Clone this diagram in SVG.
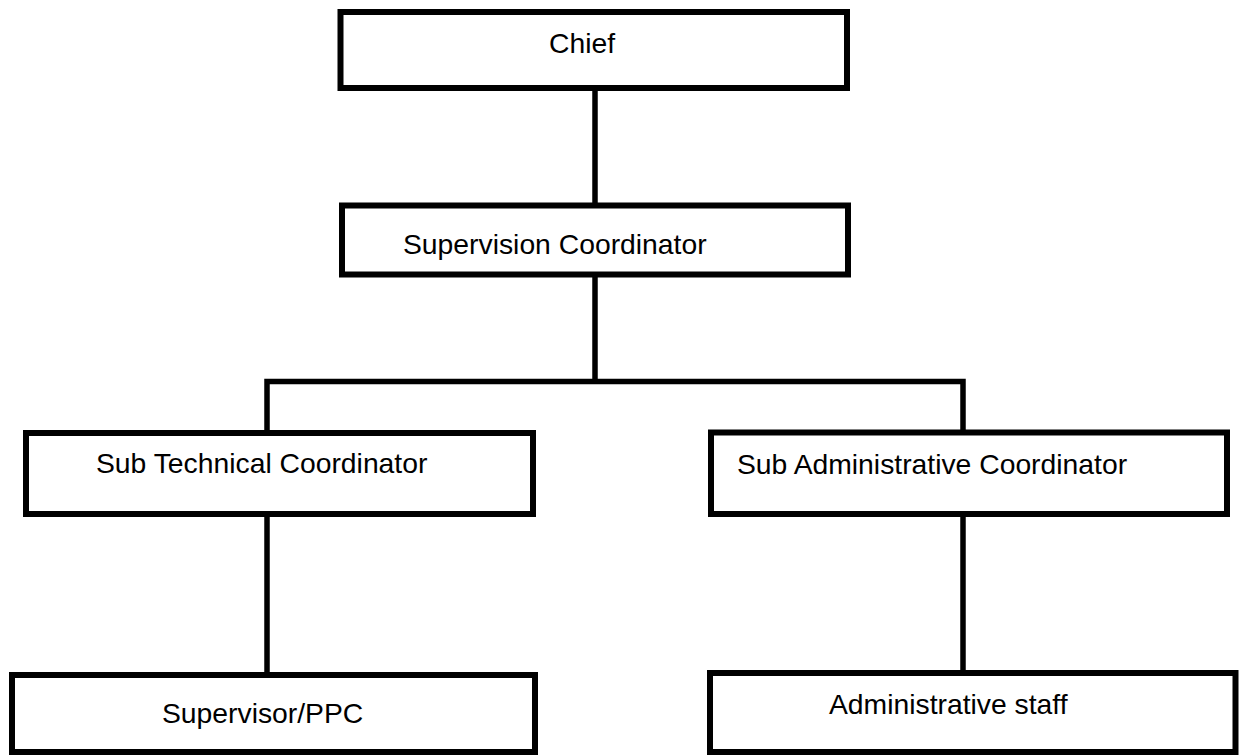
<svg xmlns="http://www.w3.org/2000/svg" width="1241" height="755" viewBox="0 0 1241 755">
<style>
.box{fill:#fff;stroke:#000;stroke-width:6}
.lbl{font-family:"Liberation Sans",Arial,sans-serif;font-size:28.3px;fill:#000}
.con{fill:none;stroke:#000;stroke-width:5.5}
</style>
<rect width="1241" height="755" fill="#fff"/>
<g id="connectors">
<line class="con" x1="595" y1="88" x2="595" y2="206"/>
<line class="con" x1="595" y1="274" x2="595" y2="382"/>
<polyline class="con" points="267,433 267,381.5 963,381.5 963,433"/>
<line class="con" x1="267" y1="514" x2="267" y2="675"/>
<line class="con" x1="963" y1="514" x2="963" y2="673"/>
</g>
<g id="chief">
<rect class="box" x="340.5" y="12" width="506.5" height="76"/>
<text class="lbl" x="549" y="53">Chief</text>
</g>
<g id="supervision-coordinator">
<rect class="box" x="342" y="205.5" width="506" height="69"/>
<text class="lbl" x="403" y="254">Supervision Coordinator</text>
</g>
<g id="sub-technical-coordinator">
<rect class="box" x="26" y="433" width="507" height="81"/>
<text class="lbl" x="96" y="473">Sub Technical Coordinator</text>
</g>
<g id="sub-administrative-coordinator">
<rect class="box" x="711" y="432.5" width="516" height="81.5"/>
<text class="lbl" x="737" y="474">Sub Administrative Coordinator</text>
</g>
<g id="supervisor-ppc">
<rect class="box" x="12" y="675" width="523" height="77"/>
<text class="lbl" x="162" y="723">Supervisor/PPC</text>
</g>
<g id="administrative-staff">
<rect class="box" x="710" y="673" width="525.5" height="79"/>
<text class="lbl" x="829" y="714">Administrative staff</text>
</g>
</svg>
